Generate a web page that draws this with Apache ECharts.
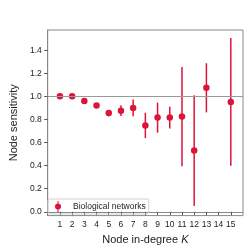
<!DOCTYPE html>
<html><head><meta charset="utf-8">
<script src="https://cdn.jsdelivr.net/npm/echarts@6/dist/echarts.min.js"></script>
<style>html,body{margin:0;padding:0;background:#fff}#c{width:250px;height:250px}</style>
</head><body><div id="c"></div>
<script>
const degrees = [1,2,3,4,5,6,7,8,9,10,11,12,13,15];
const sensitivity = [1.0,1.0,0.96,0.92,0.855,0.876,0.90,0.748,0.816,0.816,0.825,0.53,1.074,0.952];
const errors = [0.005,0.005,0.008,0.01,0.028,0.047,0.072,0.11,0.13,0.095,0.43,0.48,0.213,0.553];
const xTicks = [1,2,3,4,5,6,7,8,9,10,11,12,13,14,15];
const yTicks = [0,0.2,0.4,0.6,0.8,1.0,1.2,1.4];
const color = '#dc143c';
const font = 'Liberation Sans, Arial, sans-serif';

const points = degrees.map((k,i)=>[k, sensitivity[i]]);
const bars = degrees.map((k,i)=>[k, sensitivity[i]-errors[i], sensitivity[i]+errors[i]]);

const chart = echarts.init(document.getElementById('c'), null, {renderer:'canvas'});
chart.setOption({
  animation:false,
  grid:{left:43, top:30, width:200, height:189, show:true, borderColor:'#888', borderWidth:1},
  legend:{
    left:48, top:199, orient:'horizontal',
    borderColor:'#d0d0d0', borderWidth:1, borderRadius:2,
    padding:[2,3,2,7], itemWidth:8, itemHeight:11, itemGap:4,
    textStyle:{fontFamily:font, fontSize:8.5, color:'#222', padding:[0,0,0,6]},
    data:[{name:'Biological networks', icon:'path://M9,0L11,0L11,20L9,20Z M10,4.5A5.5,5.5 0 1 1 10,15.5A5.5,5.5 0 1 1 10,4.5Z', itemStyle:{color:color}}]
  },
  xAxis:{
    type:'value', min:0, max:16,
    name:'Node in-degree {i|K}', nameLocation:'middle', nameGap:15,
    nameTextStyle:{fontFamily:font, fontSize:11, color:'#222', rich:{i:{fontStyle:'italic', fontFamily:font, fontSize:11, color:'#222'}}},
    axisLine:{show:true, lineStyle:{color:'#888', width:1}},
    axisTick:{show:true, length:3.5, lineStyle:{color:'#555'}, customValues:xTicks},
    axisLabel:{customValues:xTicks, margin:4.5, fontFamily:font, fontSize:8.5, color:'#222'},
    splitLine:{show:false}
  },
  yAxis:{
    type:'value', min:-0.033, max:1.575,
    name:'Node sensitivity', nameLocation:'middle', nameGap:21,
    nameTextStyle:{fontFamily:font, fontSize:11, color:'#222'},
    axisLine:{show:true, lineStyle:{color:'#888', width:1}},
    axisTick:{show:true, length:3.5, lineStyle:{color:'#555'}, customValues:yTicks},
    axisLabel:{customValues:yTicks, margin:6, fontFamily:font, fontSize:8.5, color:'#222', formatter:v=>v.toFixed(1)},
    splitLine:{show:false}
  },
  series:[
    {
      name:'Biological networks', type:'custom', data:bars, z:2,
      renderItem:(params, api)=>{
        const a = api.coord([api.value(0), api.value(1)]);
        const b = api.coord([api.value(0), api.value(2)]);
        return {type:'line', shape:{x1:a[0], y1:a[1], x2:b[0], y2:b[1]}, style:{stroke:color, lineWidth:1.5}};
      },
      markLine:{silent:true, symbol:'none', label:{show:false}, lineStyle:{color:'#999', width:1.2, type:'solid'}, data:[{yAxis:1}]}
    },
    {
      name:'Biological networks', type:'scatter', data:points, symbol:'circle', symbolSize:6.5,
      itemStyle:{color:color, opacity:1}, z:3
    }
  ]
});
</script></body></html>
